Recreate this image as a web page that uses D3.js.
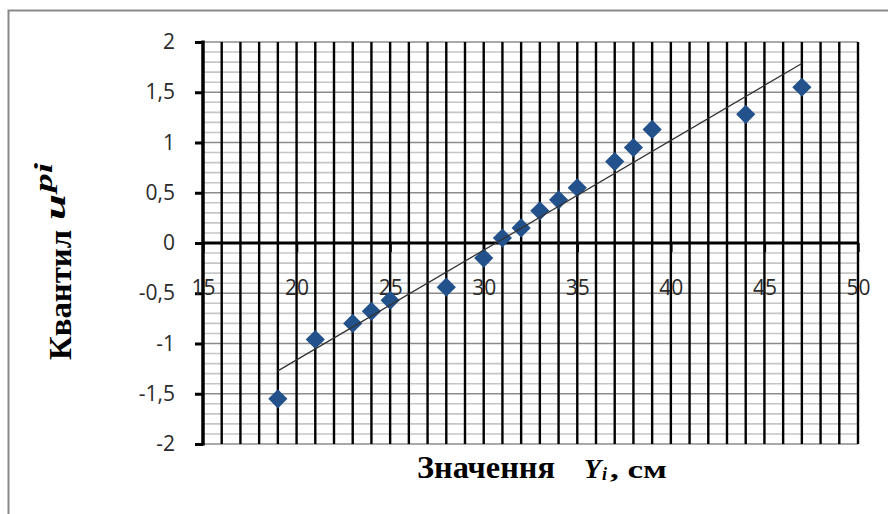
<!DOCTYPE html>
<html>
<head>
<meta charset="utf-8">
<script src="https://cdn.jsdelivr.net/npm/d3@7/dist/d3.min.js"></script>
<style>
  body { margin: 0; background: #fff; }
  svg { display: block; }
</style>
</head>
<body>
<div id="chart"></div>
<script>
// Data: values Y_i (cm) and quantiles u_pi
const yiValues = [19, 21, 23, 24, 25, 28, 30, 31, 32, 33, 34, 35, 37, 38, 39, 44, 47];
const upiValues = [-1.55, -0.96, -0.8, -0.68, -0.57, -0.44, -0.15, 0.05, 0.15, 0.32, 0.43, 0.55, 0.81, 0.95, 1.13, 1.28, 1.55];
const xTicks = [15, 20, 25, 30, 35, 40, 45, 50];
const yTicks = [-2, -1.5, -1, -0.5, 0, 0.5, 1, 1.5, 2];
const xDomain = [15, 50];
const yDomain = [-2, 2];

function draw() {
    const dataset = yiValues.map((x, i) => ({ x, y: upiValues[i] }));
    const xAccessor = d => d.x;
    const yAccessor = d => d.y;

    let dimensions = {
        width: 888,
        height: 514,
        margins: { top: 42, right: 30, bottom: 70, left: 203 }
    };
    dimensions.containerWidth = dimensions.width - dimensions.margins.left - dimensions.margins.right;
    dimensions.containerHeight = dimensions.height - dimensions.margins.top - dimensions.margins.bottom;

    const svg = d3.select('#chart')
        .append('svg')
        .attr('width', dimensions.width)
        .attr('height', dimensions.height);

    // outer chart border
    svg.append('rect')
        .attr('x', 8.5)
        .attr('y', 10.5)
        .attr('width', 900)
        .attr('height', 600)
        .attr('fill', 'none')
        .attr('stroke', '#8a8a8a')
        .attr('stroke-width', 2);

    const container = svg.append('g')
        .attr('transform', `translate(${dimensions.margins.left}, ${dimensions.margins.top})`);

    // Scales
    const xScale = d3.scaleLinear()
        .domain(xDomain)
        .range([0, dimensions.containerWidth]);
    const yScale = d3.scaleLinear()
        .domain(yDomain)
        .range([dimensions.containerHeight, 0]);

    const fmt = v => String(v).replace('.', ',');

    // horizontal gridlines (minor every 0.1, major every 0.5)
    const hLines = d3.range(-20, 21).map(i => i / 10);
    container.append('g')
        .selectAll('line')
        .data(hLines.filter(v => Math.round(v * 10) % 5 !== 0))
        .join('line')
        .attr('x1', 0)
        .attr('x2', dimensions.containerWidth)
        .attr('y1', d => yScale(d))
        .attr('y2', d => yScale(d))
        .attr('stroke', '#c6c6c6')
        .attr('stroke-width', 1.6);
    container.append('g')
        .selectAll('line')
        .data(yTicks)
        .join('line')
        .attr('x1', 0)
        .attr('x2', dimensions.containerWidth)
        .attr('y1', d => yScale(d))
        .attr('y2', d => yScale(d))
        .attr('stroke', '#8c8c8c')
        .attr('stroke-width', 1.6);

    // vertical gridlines every 1
    container.append('g')
        .selectAll('line')
        .data(d3.range(xDomain[0] + 1, xDomain[1] + 1))
        .join('line')
        .attr('x1', d => xScale(d))
        .attr('x2', d => xScale(d))
        .attr('y1', 0)
        .attr('y2', dimensions.containerHeight)
        .attr('stroke', '#000')
        .attr('stroke-width', 2.4);

    // Y axis
    const yAxis = d3.axisLeft(yScale)
        .tickValues(yTicks)
        .tickSize(8)
        .tickPadding(20)
        .tickFormat(fmt);
    const yAxisGroup = container.append('g').call(yAxis);
    yAxisGroup.select('.domain')
        .attr('d', `M0,${yScale(2) - 1.5}V${yScale(-2) + 1.5}`)
        .attr('stroke', '#000')
        .attr('stroke-width', 3.5);
    yAxisGroup.selectAll('.tick line')
        .attr('stroke', '#000')
        .attr('stroke-width', 3);
    yAxisGroup.selectAll('.tick text')
        .attr('fill', '#2a2a2a')
        .style('font-family', '"Open Sans", sans-serif')
        .style('font-size', '21px');

    // X axis at u = 0
    const xAxis = d3.axisBottom(xScale)
        .tickValues(xTicks)
        .tickSize(9)
        .tickPadding(28)
        .tickFormat(fmt);
    const xAxisGroup = container.append('g')
        .attr('transform', `translate(0, ${yScale(0)})`)
        .call(xAxis);
    xAxisGroup.select('.domain')
        .attr('d', `M0,0H${dimensions.containerWidth}`)
        .attr('stroke', '#000')
        .attr('stroke-width', 3.2);
    xAxisGroup.selectAll('.tick line')
        .attr('stroke', '#000')
        .attr('stroke-width', 2.4);
    xAxisGroup.selectAll('.tick text')
        .attr('fill', '#2a2a2a')
        .style('font-family', '"Open Sans", sans-serif')
        .style('font-size', '21px');

    // points
    const diamond = d3.symbol().type(d3.symbolDiamond2).size(235);
    container.append('g')
        .selectAll('path')
        .data(dataset)
        .join('path')
        .attr('transform', d => `translate(${xScale(xAccessor(d))}, ${yScale(yAccessor(d))})`)
        .attr('d', diamond)
        .attr('fill', '#23518b');

    // linear trend line (least squares)
    const mx = d3.mean(dataset, xAccessor);
    const my = d3.mean(dataset, yAccessor);
    const slope = d3.sum(dataset, d => (d.x - mx) * (d.y - my)) / d3.sum(dataset, d => (d.x - mx) ** 2);
    const fit = x => my + slope * (x - mx);
    const [x0, x1] = d3.extent(dataset, xAccessor);
    container.append('line')
        .attr('x1', xScale(x0))
        .attr('y1', yScale(fit(x0)))
        .attr('x2', xScale(x1))
        .attr('y2', yScale(fit(x1)))
        .attr('stroke', '#333')
        .attr('stroke-width', 1.3);

    // axis titles
    const serif = '"Liberation Serif", "Times New Roman", serif';
    const xTitle = svg.append('g')
        .attr('fill', '#000')
        .style('font-family', serif)
        .style('font-weight', 'bold');
    xTitle.append('text').attr('x', 417).attr('y', 478)
        .style('font-size', '32px')
        .attr('textLength', 138).attr('lengthAdjust', 'spacingAndGlyphs')
        .text('Значення');
    xTitle.append('text').attr('x', 584).attr('y', 478)
        .style('font-size', '28px').style('font-style', 'italic')
        .text('Y');
    xTitle.append('text').attr('x', 602).attr('y', 480)
        .style('font-size', '18px').style('font-style', 'italic')
        .text('i');
    xTitle.append('text').attr('x', 610).attr('y', 478)
        .style('font-size', '26px')
        .attr('textLength', 57).attr('lengthAdjust', 'spacingAndGlyphs')
        .text(', см');

    const yTitle = svg.append('g')
        .attr('transform', 'translate(71, 360) rotate(-90)')
        .attr('fill', '#000')
        .style('font-family', serif)
        .style('font-weight', 'bold');
    yTitle.append('text').attr('x', 0).attr('y', 0)
        .style('font-size', '32px')
        .attr('textLength', 130).attr('lengthAdjust', 'spacingAndGlyphs')
        .text('Квантил');
    yTitle.append('text').attr('x', 140).attr('y', -6)
        .style('font-size', '30px').style('font-style', 'italic')
        .attr('textLength', 26).attr('lengthAdjust', 'spacingAndGlyphs')
        .text('u');
    yTitle.append('text').attr('x', 168).attr('y', -19)
        .style('font-size', '26px').style('font-style', 'italic')
        .attr('textLength', 29).attr('lengthAdjust', 'spacingAndGlyphs')
        .text('pi');
}

draw();
</script>
</body>
</html>
